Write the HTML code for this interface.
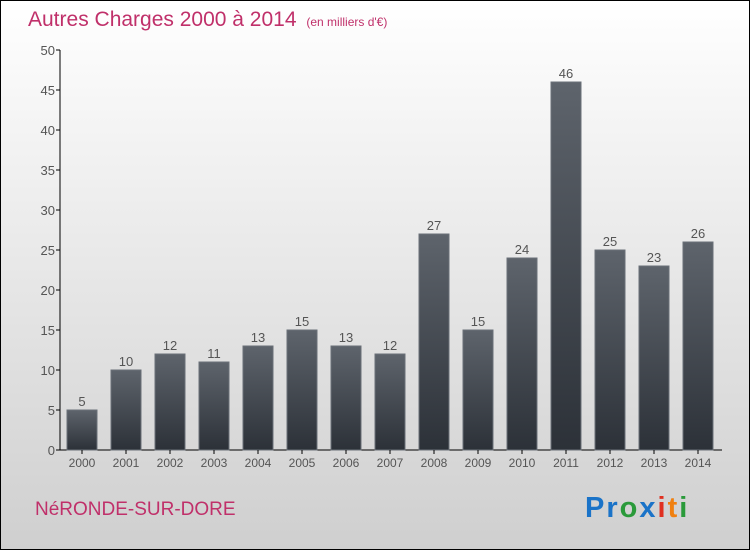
<!DOCTYPE html>
<html><head><meta charset="utf-8"><style>
body{margin:0}
#c{width:748px;height:548px;border:1px solid #000;background:linear-gradient(#ffffff,#cfcfcf);position:relative;overflow:hidden;font-family:"Liberation Sans",sans-serif}
</style></head><body>
<div id="c">
<svg width="748" height="548">
<text x="27" y="25" font-size="21" fill="#c0306a">Autres Charges 2000 à 2014 <tspan font-size="12" dx="4">(en milliers d'€)</tspan></text>
<defs><linearGradient id="g" x1="0" y1="0" x2="0" y2="1"><stop offset="0" stop-color="#5e646c"/><stop offset="1" stop-color="#2c3138"/></linearGradient></defs>
<g id="plot"></g>
<text x="34" y="514" font-size="19" fill="#c0306a">NéRONDE-SUR-DORE</text>
<text x="584" y="516" font-size="29" font-weight="bold" letter-spacing="2"><tspan fill="#1a73c8">Pr</tspan><tspan fill="#2a9a3a">o</tspan><tspan fill="#1a73c8">x</tspan><tspan fill="#e03020">i</tspan><tspan fill="#f08010">t</tspan><tspan fill="#2a9a3a">i</tspan></text>
</svg></div>
<script>
const categories=["2000","2001","2002","2003","2004","2005","2006","2007","2008","2009","2010","2011","2012","2013","2014"];
const values=[5,10,12,11,13,15,13,12,27,15,24,46,25,23,26];
const yTicks=[0,5,10,15,20,25,30,35,40,45,50];
const ns="http://www.w3.org/2000/svg";
const g=document.getElementById('plot');
const y=v=>449-v*8, x=i=>81+i*44;
function mk(t,a,txt){const e=document.createElementNS(ns,t);for(const k in a)e.setAttribute(k,a[k]);if(txt!==undefined)e.textContent=txt;g.appendChild(e);return e;}
let e=mk('line',{x1:59,y1:49,x2:59,y2:449,stroke:'#000'});


e=mk('line',{x1:59,y1:449,x2:721,y2:449,stroke:'#000'});


yTicks.forEach(t=>{
 e=mk('line',{x1:55,y1:y(t),x2:59,y2:y(t),stroke:'#000'});
 
 
 e=mk('text',{x:54,y:y(t)+5,'font-size':13,fill:'#555','text-anchor':'end'},t);
 
 
});
categories.forEach((c,i)=>{
 const v=values[i];
 e=mk('rect',{x:x(i)-15,y:y(v),width:30,height:v*8,fill:'url(#g)',stroke:'#6a7078','stroke-width':1});
 
 
 e=mk('text',{x:x(i),y:y(v)-4,'font-size':13,fill:'#555','text-anchor':'middle'},v);
 
 
 e=mk('line',{x1:x(i),y1:449,x2:x(i),y2:453,stroke:'#000'});
 
 
 e=mk('text',{x:x(i),y:466,'font-size':12,fill:'#555','text-anchor':'middle'},c);
 
 
});
</script>
</body></html>
